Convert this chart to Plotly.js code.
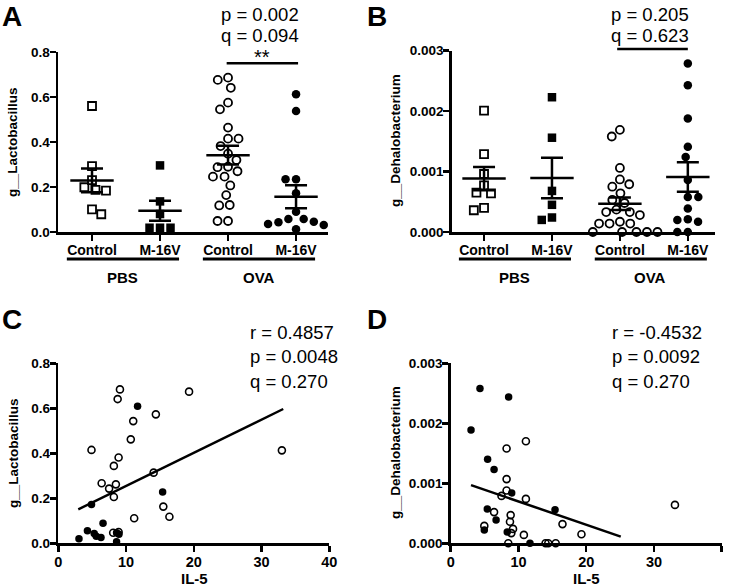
<!DOCTYPE html>
<html>
<head>
<meta charset="utf-8">
<script src="https://cdn.plot.ly/plotly-3.0.1.min.js"></script>
<style>html,body{margin:0;padding:0;background:#fff;}#chart{width:729px;height:588px;}</style>
</head>
<body>
<div id="chart"></div>
<script>
// ---------------- DATA ----------------
const categoryLabels = ['Control', 'M-16V', 'Control', 'M-16V'];
const groupLabels = ['PBS', 'OVA'];

// Panel A: g__Lactobacillus relative abundance
const lactoPBSControl = [0.56, 0.293, 0.231, 0.199, 0.187, 0.184, 0.101, 0.079];
const lactoPBSM16V   = [0.296, 0.136, 0.080, 0.019, 0.019, 0.019];
const lactoOVAControl = [0.686, 0.676, 0.641, 0.575, 0.545, 0.464, 0.415, 0.415, 0.382, 0.348, 0.320,
                         0.270, 0.288, 0.290, 0.246, 0.246, 0.207, 0.164, 0.120, 0.118, 0.049, 0.049];
const lactoOVAM16V = [0.612, 0.538, 0.234, 0.234, 0.172, 0.090, 0.043, 0.058, 0.058, 0.036, 0.046, 0.031, 0.031, 0.012];

// Panel B: g__Dehalobacterium relative abundance
const dehaloPBSControl = [0.00201, 0.00129, 0.00096, 0.00077, 0.00065, 0.00064, 0.00040, 0.00036];
const dehaloPBSM16V   = [0.00223, 0.00156, 0.00068, 0.00045, 0.00024, 0.00020];
const dehaloOVAControl = [0.00169, 0.00158, 0.00106, 0.00087, 0.00079, 0.00075, 0.00064, 0.00053, 0.00048,
                          0.00033, 0.00033, 0.00028, 0.00037, 0.00014, 0.00014, 0.00017, 0.00014, 0, 0, 0, 0, 0];
const dehaloOVAM16V = [0.00279, 0.00243, 0.00188, 0.00141, 0.00124, 0.00086, 0.00058, 0.00058, 0.00039,
                       0.00017, 0.00021, 0.00020, 0, 0];

// Panel C: IL-5 vs g__Lactobacillus
const il5OpenC   = [9.1, 8.76, 19.3, 14.4, 11.06, 10.7, 4.9, 8.9, 8.2, 33.0, 14.07, 6.4, 8.5, 7.5, 8.2, 15.5, 16.4, 11.2, 8.1, 8.9];
const lactoOpenC = [0.684, 0.641, 0.674, 0.573, 0.543, 0.462, 0.415, 0.381, 0.344, 0.413, 0.314, 0.267, 0.262, 0.243, 0.206, 0.163, 0.118, 0.111, 0.047, 0.050];
const il5FilledC   = [11.7, 15.4, 4.9, 6.6, 4.3, 5.3, 5.6, 6.3, 3.05, 8.6, 8.95, 8.6];
const lactoFilledC = [0.609, 0.228, 0.172, 0.089, 0.056, 0.044, 0.031, 0.026, 0.020, 0.047, 0.040, 0.007];
const fitC = [0.01474, 0.1075];      // slope, intercept
const fitRangeC = [2.95, 33.2];

// Panel D: IL-5 vs g__Dehalobacterium
const il5OpenD    = [11.1, 8.25, 8.25, 8.25, 7.5, 11.1, 6.4, 8.85, 8.75, 16.5, 4.96, 9.2, 8.95, 10.8, 19.3, 33.1, 8.5, 14.0, 14.4, 15.5];
const dehaloOpenD = [0.0017, 0.00158, 0.00107, 0.00088, 0.00079, 0.00074, 0.00052, 0.00047, 0.00036, 0.00032, 0.00029, 0.00024, 0.00017, 0.00014, 0.00015, 0.00064, 0, 0, 0, 0];
const il5FilledD    = [4.32, 8.55, 3.0, 5.45, 6.4, 9.0, 15.4, 5.4, 6.7, 4.96, 8.35, 11.7];
const dehaloFilledD = [0.00258, 0.00244, 0.00189, 0.0014, 0.00123, 0.00084, 0.00056, 0.00057, 0.00039, 0.00022, 0.00019, 0];
const fitD = [-0.0000389, 0.001087];
const fitRangeD = [3.0, 25.1];

// ---------------- HELPERS ----------------
const W = 729, H = 588;
const fx = px => px / W;
const fy = py => 1 - py / H;
const FONT = 'Liberation Sans, Arial, sans-serif';
const BOLD = {family: FONT, size: 13.5, color: '#000', weight: 'bold'};

function mean(a) { return a.reduce((s, v) => s + v, 0) / a.length; }
function sem(a) {
  const m = mean(a);
  const v = a.reduce((s, x) => s + (x - m) * (x - m), 0) / (a.length - 1);
  return Math.sqrt(v / a.length);
}
// beeswarm spreading, computed in pixel space
function swarm(vals, pxPerY, pxPerX, d) {
  const order = vals.map((v, i) => i).sort((a, b) => vals[b] - vals[a]);
  const placed = [];
  const off = new Array(vals.length).fill(0);
  let flip = -1;
  for (const i of order) {
    const y = vals[i] * pxPerY;
    const ivs = [];
    for (const p of placed) {
      const dy = Math.abs(p.y - y);
      if (dy < d) { const w = Math.sqrt(d * d - dy * dy); ivs.push([p.x - w, p.x + w]); }
    }
    const cands = [0];
    ivs.forEach(iv => cands.push(iv[0], iv[1]));
    const ok = c => ivs.every(iv => c <= iv[0] + 1e-6 || c >= iv[1] - 1e-6);
    let best = null;
    for (const c of cands) {
      if (!ok(c)) continue;
      if (best === null || Math.abs(c) < Math.abs(best) - 1e-6 ||
          (Math.abs(Math.abs(c) - Math.abs(best)) < 1e-6 && c * flip > 0)) best = c;
    }
    if (Math.abs(best) > 1e-6) flip = -flip;
    placed.push({x: best, y: y});
    off[i] = best / pxPerX;
  }
  return off;
}

// panel geometry (pixels)
const geoA = {x0: 58, x1: 328, y0: 232, y1: 52, xr: [-0.5, 3.47], yr: [0, 0.8]};
const geoB = {x0: 451.7, x1: 715, y0: 232, y1: 50.7, xr: [-0.476, 3.40], yr: [0, 0.003]};
const geoC = {x0: 58.3, x1: 329.3, y0: 543.3, y1: 363.3, xr: [0, 40], yr: [0, 0.8]};
const geoD = {x0: 450.7, x1: 721.7, y0: 543.3, y1: 363.3, xr: [0, 40], yr: [0, 0.003]};

const traces = [];
const symbols = ['square-open', 'square', 'circle-open', 'circle'];

function dotPanel(groups, geo, xa, ya) {
  const pxX = (geo.x1 - geo.x0) / (geo.xr[1] - geo.xr[0]);
  const pxY = (geo.y0 - geo.y1) / (geo.yr[1] - geo.yr[0]);
  groups.forEach((vals, k) => {
    const offs = swarm(vals, pxY, pxX, 10.5);
    const open = symbols[k].endsWith('open');
    traces.push({
      x: vals.map((v, i) => k + offs[i]), y: vals, xaxis: xa, yaxis: ya,
      type: 'scatter', mode: 'markers', cliponaxis: false, hoverinfo: 'skip',
      marker: {symbol: symbols[k], size: open ? 8 : 8.5, color: '#000',
               line: {color: '#000', width: open ? 1.8 : 0}}
    });
    traces.push({
      x: [k], y: [mean(vals)], xaxis: xa, yaxis: ya,
      type: 'scatter', mode: 'markers', cliponaxis: false, hoverinfo: 'skip',
      marker: {symbol: 'line-ew', size: 31, color: '#000', line: {color: '#000', width: 2.5}},
      error_y: {type: 'data', array: [sem(vals)], visible: true, width: 11, thickness: 2.5, color: '#000'}
    });
  });
}
dotPanel([lactoPBSControl, lactoPBSM16V, lactoOVAControl, lactoOVAM16V], geoA, 'x', 'y');
dotPanel([dehaloPBSControl, dehaloPBSM16V, dehaloOVAControl, dehaloOVAM16V], geoB, 'x2', 'y2');

function scatterPanel(xo, yo, xf, yf, fit, rng, xa, ya) {
  traces.push({x: xo, y: yo, xaxis: xa, yaxis: ya, type: 'scatter', mode: 'markers', cliponaxis: false, hoverinfo: 'skip',
    marker: {symbol: 'circle-open', size: 7, color: '#000', line: {color: '#000', width: 1.6}}});
  traces.push({x: xf, y: yf, xaxis: xa, yaxis: ya, type: 'scatter', mode: 'markers', cliponaxis: false, hoverinfo: 'skip',
    marker: {symbol: 'circle', size: 7.5, color: '#000', line: {width: 0}}});
  traces.push({x: rng, y: rng.map(v => fit[0] * v + fit[1]), xaxis: xa, yaxis: ya, type: 'scatter', mode: 'lines',
    cliponaxis: false, hoverinfo: 'skip', line: {color: '#000', width: 2.5}});
}
scatterPanel(il5OpenC, lactoOpenC, il5FilledC, lactoFilledC, fitC, fitRangeC, 'x3', 'y3');
scatterPanel(il5OpenD, dehaloOpenD, il5FilledD, dehaloFilledD, fitD, fitRangeD, 'x4', 'y4');

// ---------------- AXES ----------------
function xAxis(geo, anchor, extra) {
  return Object.assign({domain: [fx(geo.x0), fx(geo.x1)], range: geo.xr, anchor: anchor,
    showline: true, linewidth: 2.5, linecolor: '#000', ticks: 'outside', ticklen: 6, tickwidth: 2.5, tickcolor: '#000',
    showgrid: false, zeroline: false, fixedrange: true, ticklabelstandoff: -2,
    tickfont: Object.assign({}, BOLD, {size: 14.5})}, extra);
}
function yAxis(geo, anchor, extra) {
  return Object.assign({domain: [fy(geo.y0), fy(geo.y1)], range: geo.yr, anchor: anchor,
    showline: true, linewidth: 2.5, linecolor: '#000', ticks: 'outside', ticklen: 6, tickwidth: 2.5, tickcolor: '#000',
    showgrid: false, zeroline: false, fixedrange: true, tickfont: BOLD, ticklabelstandoff: -3}, extra);
}
const catTicks = {tickvals: [0, 1, 2, 3], ticktext: categoryLabels,
  tickfont: {family: FONT, size: 14, color: '#000', weight: 'bold'}};

const shapes = [];
const annotations = [];
function ann(text, x, y, xref, yref, size, opts) {
  annotations.push(Object.assign({text: text, x: x, y: y, xref: xref, yref: yref, showarrow: false,
    font: {family: FONT, size: size, color: '#000'}, xanchor: 'center', yanchor: 'middle'}, opts || {}));
}
function hline(xref, x0, x1, py, w) {
  shapes.push({type: 'line', xref: xref, yref: 'paper', x0: x0, x1: x1, y0: fy(py), y1: fy(py), line: {color: '#000', width: w}});
}

// group underlines and labels
['x', 'x2'].forEach(xr => {
  hline(xr, -0.37, 1.28, 259, 3);
  hline(xr, 1.63, 3.28, 259, 3);
  ann('<b>' + groupLabels[0] + '</b>', 0.45, fy(277), xr, 'paper', 15);
  ann('<b>' + groupLabels[1] + '</b>', 2.45, fy(277), xr, 'paper', 15);
});
// significance brackets
hline('x', 1.98, 3.03, 63.3, 2.5);
hline('x2', 1.96, 3.0, 49, 2.5);
ann('**', 2.5, fy(57), 'x', 'paper', 20);
ann('p = 0.002', fx(260), fy(14), 'paper', 'paper', 18.5);
ann('q = 0.094', fx(260), fy(36), 'paper', 'paper', 18.5);
ann('p = 0.205', fx(650), fy(14), 'paper', 'paper', 18.5);
ann('q = 0.623', fx(650), fy(36), 'paper', 'paper', 18.5);
// correlation stats
['r = 0.4857', 'p = 0.0048', 'q = 0.270'].forEach((t, i) => ann(t, fx(248), fy(332 + 24.5 * i), 'paper', 'paper', 18.5, {xanchor: 'left'}));
['r = -0.4532', 'p = 0.0092', 'q = 0.270'].forEach((t, i) => ann(t, fx(610), fy(332 + 24.5 * i), 'paper', 'paper', 18.5, {xanchor: 'left'}));
// panel letters
ann('<b>A</b>', fx(12), fy(16), 'paper', 'paper', 28);
ann('<b>B</b>', fx(377), fy(16), 'paper', 'paper', 28);
ann('<b>C</b>', fx(12), fy(319), 'paper', 'paper', 28);
ann('<b>D</b>', fx(377), fy(319), 'paper', 'paper', 28);
// axis titles
ann('<b>g__Lactobacillus</b>', fx(13), fy(142), 'paper', 'paper', 13.5, {textangle: -90});
ann('<b>g__Dehalobacterium</b>', fx(395), fy(141), 'paper', 'paper', 13.5, {textangle: -90});
ann('<b>g__Lactobacillus</b>', fx(13), fy(453), 'paper', 'paper', 13.5, {textangle: -90});
ann('<b>g__Dehalobacterium</b>', fx(395), fy(453), 'paper', 'paper', 13.5, {textangle: -90});
ann('<b>IL-5</b>', fx(194), 0, 'paper', 'paper', 15, {yanchor: 'bottom', borderpad: 0});
ann('<b>IL-5</b>', fx(586), 0, 'paper', 'paper', 15, {yanchor: 'bottom', borderpad: 0});

const layout = {
  width: W, height: H, margin: {l: 0, r: 0, t: 0, b: 0},
  paper_bgcolor: '#fff', plot_bgcolor: 'rgba(0,0,0,0)', showlegend: false,
  font: {family: FONT, color: '#000'},
  xaxis: xAxis(geoA, 'y', catTicks),
  yaxis: yAxis(geoA, 'x', {dtick: 0.2, tickformat: '.1f'}),
  xaxis2: xAxis(geoB, 'y2', catTicks),
  yaxis2: yAxis(geoB, 'x2', {dtick: 0.001, tickformat: '.3f'}),
  xaxis3: xAxis(geoC, 'y3', {dtick: 10}),
  yaxis3: yAxis(geoC, 'x3', {dtick: 0.2, tickformat: '.1f'}),
  xaxis4: xAxis(geoD, 'y4', {dtick: 10}),
  yaxis4: yAxis(geoD, 'x4', {dtick: 0.001, tickformat: '.3f'}),
  shapes: shapes, annotations: annotations
};
Plotly.newPlot('chart', traces, layout, {staticPlot: true, displayModeBar: false});
</script>
</body>
</html>
